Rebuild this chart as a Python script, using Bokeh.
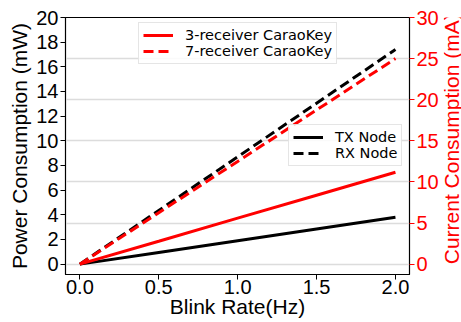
from bokeh.plotting import figure
from bokeh.layouts import row
from bokeh.models import (Range1d, LinearAxis, FixedTicker, NumeralTickFormatter,
                          Grid, Legend, LegendItem)
from bokeh.core.properties import value
from bokeh.embed import file_html
from bokeh.resources import INLINE

blink_rate = [0.0, 0.5, 1.0, 1.5, 2.0]
tx_node = [0.0, 0.95, 1.9, 2.85, 3.8]
rx_node = [0.0, 4.35, 8.7, 13.05, 17.4]
caraokey_3rx = [0.0, 1.86, 3.73, 5.59, 7.45]
caraokey_7rx = [0.0, 4.17, 8.33, 12.5, 16.67]
x_ticks = [0.0, 0.5, 1.0, 1.5, 2.0]
left_ticks = [0, 2, 4, 6, 8, 10, 12, 14, 16, 18, 20]
right_ticks = [0, 5, 10, 15, 20, 25, 30]
right_label = ["Current Consumption (mA)"]

FONT = "Liberation Sans"
RED = "#ff0000"
LABEL_SIZE = "21px"

p = figure(width=443, height=322, output_backend="svg", toolbar_location=None,
           x_range=Range1d(-0.091, 2.089), y_range=Range1d(-0.84, 20),
           min_border_left=65, min_border_right=34, min_border_top=17,
           min_border_bottom=48)
p.extra_y_ranges = {"cur": Range1d(-1.26, 30)}
p.outline_line_color = "black"
p.outline_line_width = 1.2
p.xgrid.visible = False
p.ygrid.visible = False

ya = p.yaxis[0]
ya.ticker = FixedTicker(ticks=left_ticks)
ya.axis_label = "Power Consumption (mW)"
xa = p.xaxis[0]
xa.ticker = FixedTicker(ticks=x_ticks)
xa.formatter = NumeralTickFormatter(format="0.0")
xa.axis_label = "Blink Rate(Hz)"

for ax in (ya, xa):
    ax.axis_label_text_font = FONT
    ax.axis_label_text_font_size = LABEL_SIZE
    ax.axis_label_text_font_style = "normal"
    ax.major_label_text_font = FONT
    ax.major_label_text_font_size = "20px"
    ax.major_label_text_color = "black"
    ax.axis_label_text_color = "black"
    ax.minor_tick_line_color = None
    ax.major_tick_out = 5
    ax.major_tick_in = 0
    ax.axis_line_color = "black"
    ax.major_tick_line_color = "black"
ya.major_label_standoff = 2
ya.axis_label_standoff = 2
xa.major_label_standoff = 0
xa.axis_label_standoff = -2

ra = LinearAxis(y_range_name="cur", ticker=FixedTicker(ticks=right_ticks))
ra.major_label_text_font = FONT
ra.major_label_text_font_size = "20px"
ra.major_label_text_color = RED
ra.minor_tick_line_color = None
ra.major_tick_out = 5
ra.major_tick_in = 0
ra.major_tick_line_color = RED
ra.axis_line_color = "black"
ra.major_label_standoff = 2
p.add_layout(ra, "right")

grid = Grid(dimension=1, ticker=ra.ticker, y_range_name="cur",
            grid_line_color="#dcdcdc", grid_line_width=1.5)
p.add_layout(grid)

lw = 3
r_tx = p.line(blink_rate, tx_node, line_color="black", line_width=lw)
r_rx = p.line(blink_rate, rx_node, line_color="black", line_width=lw, line_dash="10 5")
r_3 = p.line(blink_rate, caraokey_3rx, line_color=RED, line_width=lw)
r_7 = p.line(blink_rate, caraokey_7rx, line_color=RED, line_width=lw, line_dash="10 5")


def make_legend(items, loc):
    lg = Legend(items=items, location=loc)
    lg.label_text_font = "DejaVu Sans"
    lg.label_text_font_size = "14.5px"
    lg.label_text_color = "black"
    lg.glyph_width = 30
    lg.glyph_height = 14
    lg.label_height = 14
    lg.spacing = 0
    lg.padding = 4
    lg.margin = 0
    lg.label_standoff = 12
    lg.border_line_color = "#cccccc"
    lg.border_line_width = 1
    lg.background_fill_alpha = 0.85
    return lg


leg1 = make_legend([LegendItem(label="3-receiver CaraoKey", renderers=[r_3]),
                    LegendItem(label="7-receiver CaraoKey", renderers=[r_7])], (73, 210))
leg2 = make_legend([LegendItem(label="TX Node", renderers=[r_tx]),
                    LegendItem(label="RX Node", renderers=[r_rx])], (223, 108))
p.add_layout(leg1, "center")
p.add_layout(leg2, "center")

# narrow side panel carrying the right-axis title (reads bottom-to-top)
p2 = figure(width=18, height=322, output_backend="svg", toolbar_location=None,
            x_range=Range1d(0, 18), y_range=Range1d(0, 322),
            x_axis_type=None, y_axis_type=None, min_border=0)
p2.outline_line_color = None
p2.xgrid.visible = False
p2.ygrid.visible = False
p2.text(x=[7.5], y=[170], text=right_label, angle=90, angle_units="deg",
        text_align="center", text_baseline="middle",
        text_font=value(FONT), text_font_size=LABEL_SIZE, text_color=RED)

open("out.html", "w").write(file_html(row(p, p2), INLINE))
